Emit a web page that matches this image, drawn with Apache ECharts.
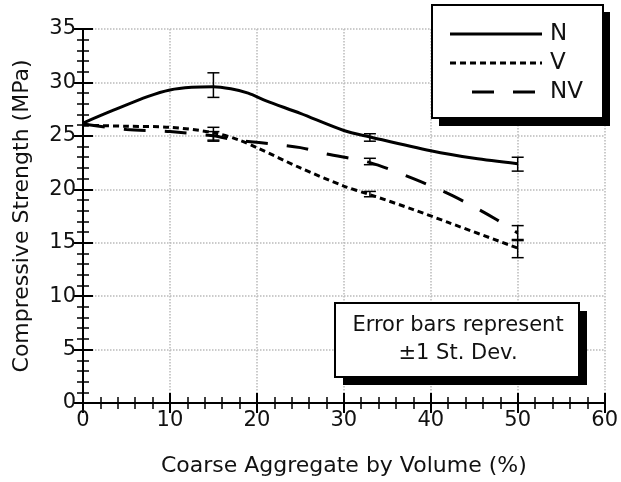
<!DOCTYPE html>
<html>
<head>
<meta charset="utf-8">
<script src="https://cdn.jsdelivr.net/npm/echarts@6/dist/echarts.min.js"></script>
<style>
  html, body { margin: 0; padding: 0; background: #fff; }
  #main { width: 621px; height: 482px; }
</style>
</head>
<body>
<div id="main"></div>
<script>
// curves: [x, strength]
var nData = [[0, 26.2], [3.5, 27.4], [7.5, 28.7], [10, 29.3], [12.5, 29.55], [15, 29.6], [17, 29.4], [19, 29.0], [21, 28.3], [25, 27.1], [30, 25.5], [33, 24.9], [40, 23.6], [45, 22.9], [50, 22.4]];
var vData = [[0, 26.0], [5, 25.9], [10, 25.8], [15, 25.3], [18, 24.6], [20, 23.9], [25, 22.0], [30, 20.3], [33, 19.5], [38, 18.1], [42, 16.9], [50, 14.5]];
var nvData = [[0, 26.1], [5, 25.6], [10, 25.4], [15, 25.0], [17.5, 24.6], [20, 24.4], [25, 23.9], [28, 23.3], [33, 22.5], [38, 21.0], [42.5, 19.4], [47.5, 17.2], [50, 15.9]];
// error bars: [x, low, high]
var errBars = [[15, 28.6, 30.9], [15, 24.6, 25.8], [15, 24.5, 25.4], [33, 24.5, 25.2], [33, 19.3, 19.8], [33, 22.3, 22.9], [50, 21.7, 23.0], [50, 15.3, 16.6], [50, 13.6, 15.2]];
var seriesNames = ['N', 'V', 'NV'];
var dashes = [null, [6, 4], [22, 19]];

var chart = echarts.init(document.getElementById('main'));
var font = 'DejaVu Sans, Arial, sans-serif';

var axisLine = { show: true, lineStyle: { color: '#000', width: 2 } };
var axisTick = { show: true, inside: true, length: 10, lineStyle: { color: '#000', width: 2 } };
var minorTick = { show: true, splitNumber: 5, length: 6, lineStyle: { color: '#000', width: 1.5 } };
var gridLine = { show: true, lineStyle: { color: '#bbb', type: 'dotted', width: 1.5 } };

// legend box drawn by hand so the samples look like the original
var legendItems = [];
seriesNames.forEach(function (name, i) {
  var y = 34 + i * 29;
  var x1 = name === 'NV' ? 472 : 450;
  legendItems.push({
    type: 'line', z: 12,
    shape: { x1: x1, y1: y, x2: 542, y2: y },
    style: { stroke: '#000', lineWidth: 3, lineDash: dashes[i] }
  });
  legendItems.push({
    type: 'text', z: 12, x: 550, y: y,
    style: { text: name, font: '23px ' + font, fill: '#111', textVerticalAlign: 'middle' }
  });
});

var option = {
  backgroundColor: '#fff',
  animation: false,
  grid: { left: 83, right: 15, top: 29, bottom: 79, show: false },
  xAxis: [{
    type: 'value', min: 0, max: 60, interval: 10,
    name: 'Coarse Aggregate by Volume (%)',
    nameLocation: 'middle', nameGap: 52,
    nameTextStyle: { fontSize: 22, color: '#111', fontFamily: font },
    axisLabel: { fontSize: 21, color: '#111', fontFamily: font, margin: 7 },
    splitLine: gridLine, axisLine: axisLine, axisTick: axisTick, minorTick: minorTick
  }, {
    type: 'value', min: 0, max: 60, interval: 10, position: 'top',
    axisLabel: { show: false }, splitLine: { show: false },
    axisLine: axisLine, axisTick: axisTick, minorTick: minorTick
  }],
  yAxis: [{
    type: 'value', min: 0, max: 35, interval: 5,
    name: 'Compressive Strength (MPa)',
    nameLocation: 'middle', nameGap: 50,
    nameTextStyle: { fontSize: 22, color: '#111', fontFamily: font },
    axisLabel: { fontSize: 21, color: '#111', fontFamily: font, margin: 7 },
    splitLine: gridLine, axisLine: axisLine, axisTick: axisTick, minorTick: minorTick
  }, {
    type: 'value', min: 0, max: 35, interval: 5, position: 'right',
    axisLabel: { show: false }, splitLine: { show: false },
    axisLine: axisLine, axisTick: axisTick, minorTick: minorTick
  }],
  series: [
    {
      name: 'N', type: 'line', data: nData, smooth: 0.3, symbol: 'none',
      lineStyle: { color: '#000', width: 3, type: 'solid' }
    },
    {
      name: 'V', type: 'line', data: vData, smooth: 0.3, symbol: 'none',
      lineStyle: { color: '#000', width: 3, type: dashes[1] }
    },
    {
      name: 'NV', type: 'line', data: nvData, smooth: 0.3, symbol: 'none',
      lineStyle: { color: '#000', width: 3, type: dashes[2] }
    },
    {
      name: 'err', type: 'custom', data: errBars, z: 5,
      renderItem: function (params, api) {
        var x = api.value(0);
        var lo = api.coord([x, api.value(1)]);
        var hi = api.coord([x, api.value(2)]);
        var w = 6;
        var st = { stroke: '#000', lineWidth: 1.5 };
        return {
          type: 'group',
          children: [
            { type: 'line', shape: { x1: lo[0], y1: lo[1], x2: hi[0], y2: hi[1] }, style: st },
            { type: 'line', shape: { x1: lo[0] - w, y1: lo[1], x2: lo[0] + w, y2: lo[1] }, style: st },
            { type: 'line', shape: { x1: hi[0] - w, y1: hi[1], x2: hi[0] + w, y2: hi[1] }, style: st }
          ]
        };
      }
    }
  ],
  graphic: [
    // legend box + shadow
    { type: 'rect', z: 10, shape: { x: 439, y: 12, width: 171, height: 114 }, style: { fill: '#000' } },
    { type: 'rect', z: 11, shape: { x: 432, y: 5, width: 171, height: 113 }, style: { fill: '#fff', stroke: '#000', lineWidth: 2 } },
    // note box + shadow
    { type: 'rect', z: 10, shape: { x: 343, y: 311, width: 244, height: 74 }, style: { fill: '#000' } },
    { type: 'rect', z: 11, shape: { x: 335, y: 303, width: 244, height: 74 }, style: { fill: '#fff', stroke: '#000', lineWidth: 2 } },
    {
      type: 'text', z: 12, x: 458, y: 326,
      style: { text: 'Error bars represent', font: '21px ' + font, fill: '#111', textAlign: 'center', textVerticalAlign: 'middle' }
    },
    {
      type: 'text', z: 12, x: 458, y: 354,
      style: { text: '±1 St. Dev.', font: '21px ' + font, fill: '#111', textAlign: 'center', textVerticalAlign: 'middle' }
    }
  ].concat(legendItems)
};
chart.setOption(option);
</script>
</body>
</html>
